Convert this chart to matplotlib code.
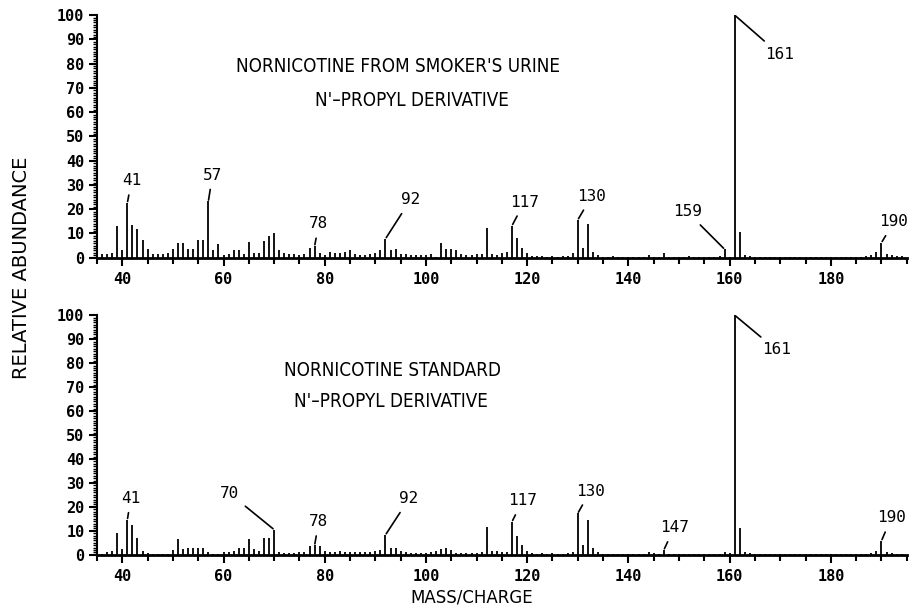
import numpy as np
import matplotlib.pyplot as plt
from matplotlib import font_manager as fm
from matplotlib.ticker import MultipleLocator

# m/z 36..194, relative abundance
masses = list(range(36, 195))

smoker = [
    1.5, 1.5, 2, 13, 3, 22.6, 13.5, 12, 7.5, 3.5,          # 36-45
    1.5, 1.5, 1.5, 2, 3.5, 6, 6, 3.5, 3.5, 7.5,            # 46-55
    7.5, 23.2, 3, 5.5, 1, 1.5, 3, 3, 1.5, 6.5,             # 56-65
    2, 2, 7, 9, 10.3, 3, 2, 1.5, 1.5, 1,                   # 66-75
    1.5, 4, 4.8, 2, 1, 2.5, 2, 2, 2.5, 3,                  # 76-85
    1.5, 1, 1, 1.5, 2, 3, 7.8, 3, 3.5, 1.5,                # 86-95
    1.5, 1, 1, 1, 1, 1.5, 0.5, 6, 3.5, 3.5,                # 96-105
    3, 1.5, 1, 1, 1.5, 1.5, 12.3, 1.5, 1, 2,               # 106-115
    2.5, 13.2, 8, 4.2, 2, 0.8, 0.8, 0.8, 0.5, 0.8,         # 116-125
    0.5, 0.8, 0.8, 1.8, 15.6, 4, 14, 2.5, 1, 0.5,          # 126-135
    0.5, 0.8, 0.5, 0.5, 0.5, 0.5, 0.5, 0.5, 1, 0.5,        # 136-145
    0.5, 2, 0.5, 0.5, 0.5, 0.5, 0.8, 0.5, 0.5, 0.5,        # 146-155
    0.5, 0.5, 0.8, 3.5, 0.5, 100, 10.8, 1, 0.8, 0.5,       # 156-165
    0.5, 0.5, 0.5, 0.5, 0.5, 0.5, 0.5, 0.5, 0.5, 0.5,      # 166-175
    0.5, 0.5, 0.5, 0.5, 0.5, 0.5, 0.5, 0.5, 0.5, 0.5,      # 176-185
    0.5, 0.8, 1, 2.5, 6.2, 1.5, 1, 0.8, 0.8,               # 186-194
]

standard = [
    0.5, 1, 1.5, 9, 2.5, 14.6, 12.5, 7, 1.5, 0.8,          # 36-45
    0.5, 0.5, 0.5, 0.5, 2, 6.5, 2.5, 2.8, 2.8, 2.8,        # 46-55
    2.8, 1, 0.5, 0.5, 1, 1, 1.5, 2.8, 2.8, 6.5,            # 56-65
    2.5, 1.5, 7, 7, 10.5, 1, 0.8, 0.8, 0.8, 1,             # 66-75
    1, 3.8, 4, 3.5, 1.5, 1, 1, 1.5, 1, 1,                  # 76-85
    1, 1, 1, 1, 1.5, 2, 8.3, 3, 3, 1.5,                    # 86-95
    1, 0.8, 0.8, 0.8, 0.8, 1, 1.5, 2.5, 3, 2,              # 96-105
    0.8, 0.8, 0.8, 0.8, 0.8, 1, 11.5, 1.5, 1.5, 1,         # 106-115
    1, 13.8, 7.8, 4.2, 1.5, 0.8, 0.5, 0.8, 0.5, 0.8,       # 116-125
    0.5, 0.5, 0.8, 1, 17.3, 4, 14.7, 3, 1, 0.5,            # 126-135
    0.5, 0.5, 0.5, 0.5, 0.5, 0.5, 0.5, 0.5, 1.2, 0.8,      # 136-145
    0.5, 2, 0.5, 0.5, 0.5, 0.5, 0.5, 0.5, 0.5, 0.5,        # 146-155
    0.5, 0.5, 0.5, 1, 0.8, 100, 11.3, 1, 0.8, 0.5,         # 156-165
    0.5, 0.5, 0.5, 0.5, 0.5, 0.5, 0.5, 0.5, 0.5, 0.5,      # 166-175
    0.5, 0.5, 0.5, 0.5, 0.5, 0.5, 0.5, 0.5, 0.5, 0.5,      # 176-185
    0.5, 0.5, 0.8, 1.5, 5.8, 1, 0.8, 0.5, 0.5,             # 186-194
]

# labelled peaks: (mass, label offset in points)
smoker_labels = [(41, 3, 16), (57, 3, 19), (78, 3, 16), (92, 18, 28),
                 (117, 9, 17), (130, 10, 17), (159, -27, 27),
                 (161, 32, -28), (190, 9, 15)]
standard_labels = [(41, 2.5, 15.5), (70, -32, 26), (78, 3, 17), (92, 17, 26),
                   (117, 7.5, 15), (130, 9, 16), (147, 7.5, 16),
                   (161, 30, -25), (190, 7, 16.5)]


def narrow_font(size):
    """Look for an installed condensed face, else plain Liberation Sans."""
    found = []
    for f in fm.fontManager.ttflist:
        w = f.weight if isinstance(f.weight, int) else fm.weight_dict.get(f.weight, 400)
        if f.style != 'normal' or w not in (400, 'normal'):
            continue
        tag = (f.name + ' ' + f.fname).lower()
        if 'narrow' in tag or 'condensed' in tag or str(f.stretch) in ('condensed', 'semi-condensed'):
            if 'semi' in tag or 'mono' in tag or 'extra' in tag:
                continue
            prio = 0 if 'liberation' in tag else 1 if 'sans' in tag else 2
            found.append((prio, f.fname))
    if found:
        found.sort()
        return fm.FontProperties(fname=found[0][1], size=size)
    return fm.FontProperties(family='Liberation Sans', size=size - 2)


TITLE_FONT = narrow_font(13.5)


def draw_panel(ax, values, labels, title1, title2, t1_pos, t2_pos):
    ax.vlines(masses, 0, values, color='black', linewidth=1.3)
    ax.set_xlim(35, 195)
    ax.set_ylim(0, 100)

    for side in ('top', 'right'):
        ax.spines[side].set_visible(False)
    ax.spines['left'].set_linewidth(1.5)
    ax.spines['bottom'].set_linewidth(2)

    ax.xaxis.set_minor_locator(MultipleLocator(5))
    ax.yaxis.set_major_locator(MultipleLocator(10))
    ax.yaxis.set_minor_locator(MultipleLocator(1))
    ax.set_xticks(range(40, 195, 20))
    ax.tick_params(axis='x', which='major', length=6, width=1.5, pad=4)
    ax.tick_params(axis='x', which='minor', length=4, width=1.5)
    ax.tick_params(axis='y', which='major', length=6, width=1.5, pad=3)
    ax.tick_params(axis='y', which='minor', length=3, width=1)
    for lab in ax.get_xticklabels() + ax.get_yticklabels():
        lab.set_fontfamily('DejaVu Sans Mono')
        lab.set_fontweight('bold')
        lab.set_fontsize(11)

    for m, dx, dy in labels:
        h = values[masses.index(m)]
        ax.annotate(str(m), xy=(m, h), xytext=(dx, dy), textcoords='offset points',
                    ha='center', va='center', annotation_clip=False,
                    fontfamily='DejaVu Sans Mono', fontsize=11.5,
                    arrowprops=dict(arrowstyle='-', color='black', lw=1.2,
                                    shrinkA=3, shrinkB=1))

    ax.text(t1_pos[0], t1_pos[1], title1, transform=ax.transAxes,
            ha='center', va='center', fontproperties=TITLE_FONT)
    ax.text(t2_pos[0], t2_pos[1], title2, transform=ax.transAxes,
            ha='center', va='center', fontproperties=TITLE_FONT)


fig = plt.figure(figsize=(9.15, 6.05), dpi=100)
ax_top = fig.add_axes([0.106, 0.574, 0.885, 0.401])
ax_bot = fig.add_axes([0.106, 0.083, 0.885, 0.396])

draw_panel(ax_top, smoker, smoker_labels,
           "NORNICOTINE FROM SMOKER'S URINE", "N'\u2013PROPYL DERIVATIVE",
           (0.372, 0.787), (0.389, 0.65))
draw_panel(ax_bot, standard, standard_labels,
           "NORNICOTINE STANDARD", "N'\u2013PROPYL DERIVATIVE",
           (0.365, 0.77), (0.363, 0.639))

fig.text(0.024, 0.557, 'RELATIVE ABUNDANCE', rotation=90, ha='center', va='center',
         fontsize=14, family='DejaVu Sans')
fig.text(0.515, 0.013, 'MASS/CHARGE', ha='center', va='center',
         fontsize=12, family='DejaVu Sans')

fig.savefig('out.png', dpi=100)
